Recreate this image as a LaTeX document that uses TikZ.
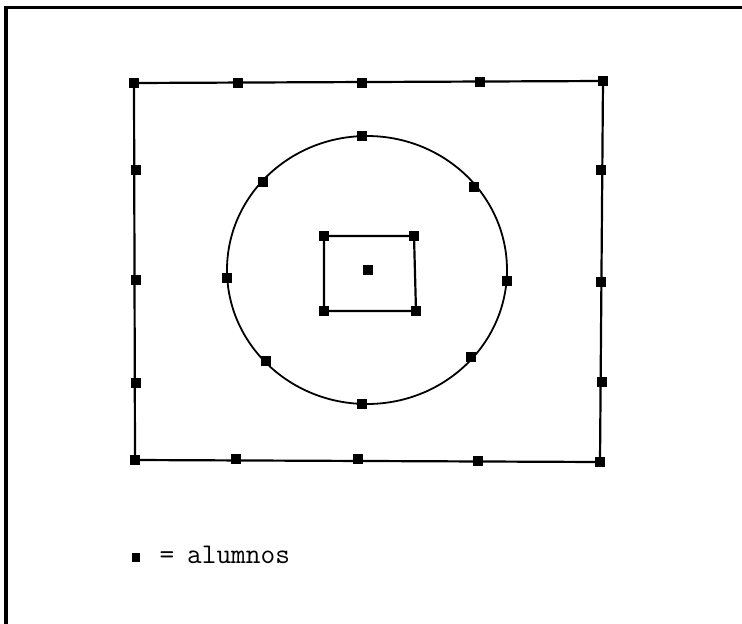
\documentclass[tikz,border=0pt]{standalone}
\tikzset{
  pt/.style={fill=black,draw=none,minimum size=9.5pt,inner sep=0pt,rectangle},
  ln/.style={line width=2.2pt,black},
  legendtxt/.style={inner sep=0pt,font=\ttfamily\fontsize{28.5}{28.5}\selectfont},
}
\begin{document}
\begin{tikzpicture}[x=1pt,y=-1pt]
\useasboundingbox (0,0) rectangle (742,624);
% outer frame (cropped at right and bottom)
\draw[line width=3.2pt] (6,640) -- (6,7.5) -- (760,7.5);
% outer rectangle points
\node[pt] (t1) at (134,83) {};
\node[pt] (t2) at (238,83) {};
\node[pt] (t3) at (362,83) {};
\node[pt] (t4) at (480,82) {};
\node[pt] (t5) at (603,81) {};
\node[pt] (l1) at (136,170) {};
\node[pt] (l2) at (136,280) {};
\node[pt] (l3) at (136,383) {};
\node[pt] (r1) at (601,170) {};
\node[pt] (r2) at (601,282) {};
\node[pt] (r3) at (602,382) {};
\node[pt] (b1) at (135,460) {};
\node[pt] (b2) at (236,459) {};
\node[pt] (b3) at (358,459) {};
\node[pt] (b4) at (478,461) {};
\node[pt] (b5) at (600,462) {};
\draw[ln] (t1.center) -- (t5.center) -- (b5.center) -- (b1.center) -- cycle;
% circle
\draw[ln,line width=1.8pt] (367,270) ellipse [x radius=140, y radius=134];
\node[pt] (c1) at (362,136) {};
\node[pt] (c2) at (263,182) {};
\node[pt] (c3) at (474,187) {};
\node[pt] (c4) at (227,278) {};
\node[pt] (c5) at (507,281) {};
\node[pt] (c6) at (266,361) {};
\node[pt] (c7) at (471,357) {};
\node[pt] (c8) at (362,404) {};
% inner square
\node[pt] (s1) at (324,236) {};
\node[pt] (s2) at (414,236) {};
\node[pt] (s3) at (416,311) {};
\node[pt] (s4) at (324,311) {};
\draw[ln] (s1.center) -- (s2.center) -- (s3.center) -- (s4.center) -- cycle;
\node[pt] (ctr) at (368,270) {};
% legend
\node[pt,minimum width=8pt,minimum height=9pt] (lg) at (136,557) {};
\node[legendtxt,anchor=base] (eq) at (167,563.5) {=};
\node[legendtxt,anchor=base west] (lt) at (187,563.5) {alumnos};
\end{tikzpicture}
\end{document}
